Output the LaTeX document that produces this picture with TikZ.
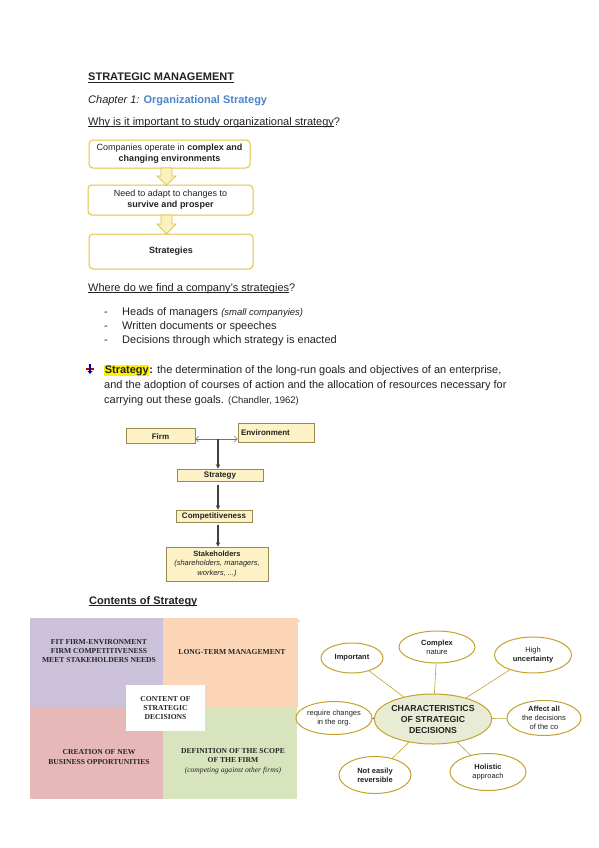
\documentclass[tikz,border=0pt]{standalone}
\usepackage{fontspec}
\setmainfont{Liberation Sans}
\newfontfamily\qserif{Liberation Serif}
\usetikzlibrary{shapes.geometric,arrows.meta}
\newcommand\myul[1]{\setbox0\hbox{#1}\rlap{\rule[-1.6pt]{\wd0}{0.55pt}}\box0}
\definecolor{fyel}{HTML}{E3C33F}
\definecolor{fyelfill}{HTML}{FBF1BE}
\definecolor{byfill}{HTML}{FDF1C6}
\definecolor{bydraw}{HTML}{968A52}
\definecolor{qpurple}{HTML}{CCC1DA}
\definecolor{qorange}{HTML}{FBD5B5}
\definecolor{qpink}{HTML}{E6B9B8}
\definecolor{qgreen}{HTML}{D7E4BD}
\definecolor{olivec}{HTML}{C4A22B}
\definecolor{cfill}{HTML}{E9ECD4}
\definecolor{titleblue}{HTML}{4A86C8}
\definecolor{txt}{HTML}{222222}
\begin{document}
\begin{tikzpicture}[x=1pt,y=-1pt,
  body/.style={anchor=base west, inner sep=0, text=txt, font=\fontsize{11}{13}\selectfont},
  fbox/.style={draw=fyel, line width=1pt, rounded corners=4pt, fill=white, align=center, inner sep=1pt, font=\fontsize{9}{11}\selectfont, text=txt},
  barrow/.style={draw=fyel, line width=0.8pt, fill=fyelfill},
  ybox/.style={draw=bydraw, line width=0.7pt, fill=byfill, inner sep=1pt, align=center, font=\bfseries\fontsize{8}{9.5}\selectfont, text=txt},
  yone/.style={ybox, text height=6pt, text depth=1.5pt},
  darr/.style={draw=black!75, line width=1.3pt, -{Stealth[length=4.5pt,width=4.5pt]}},
  qtext/.style={align=center, inner sep=0, font=\qserif\bfseries\fontsize{7.6}{9.3}\selectfont, text=black!85},
  mm/.style={ellipse, draw=olivec, line width=1pt, fill=white, inner sep=0, align=center, font=\fontsize{7.5}{9}\selectfont, text=txt},
  mline/.style={draw=olivec, line width=0.6pt}
]
\useasboundingbox (0,0) rectangle (599,848);
\fill[white] (0,0) rectangle (599,848);

% --- header texts
\node[body, font=\bfseries\fontsize{11}{13}\selectfont] (t1) at (88,81) {\myul{STRATEGIC MANAGEMENT}};
\node[body] (t2) at (88,104) {\textit{Chapter 1:} \textcolor{titleblue}{\textbf{Organizational Strategy}}};
\node[body] (t3) at (88,125) {\myul{Why is it important to study organizational strategy}?};

% --- flow boxes
\node[fbox, minimum width=161pt, minimum height=28pt] (b1) at (169.5,154) {Companies operate in \textbf{complex and}\\\textbf{changing environments}};
\node[fbox, minimum width=165pt, minimum height=30pt] (b2) at (170.5,200) {Need to adapt to changes to\\\textbf{survive and prosper}};
\node[fbox, minimum width=164pt, minimum height=35pt] (b3) at (171,251.5) {\textbf{Strategies}};
\draw[barrow] (161,168) -- (172,168) -- (172,176) -- (176,176) -- (166.5,185) -- (157,176) -- (161,176) -- cycle;
\draw[barrow] (161,215) -- (172,215) -- (172,224) -- (176,224) -- (166.5,234) -- (157,224) -- (161,224) -- cycle;

% --- where
\node[body] (w0) at (88,291) {\myul{Where do we find a company's strategies}?};
\node[body] (d1) at (104,315) {-};
\node[body] (w1) at (122,315) {Heads of managers {\itshape\fontsize{9.5}{11}\selectfont (small companyies)}};
\node[body] (d2) at (104,329) {-};
\node[body] (w2) at (122,329) {Written documents or speeches};
\node[body] (d3) at (104,343) {-};
\node[body] (w3) at (122,343) {Decisions through which strategy is enacted};

% icon
\fill[red!80!black] (86,368) rectangle (94,370);
\fill[blue!60!black] (89.2,364) rectangle (90.8,373);
\fill[blue!60!black] (87.5,371) -- (92.5,371) -- (90,374) -- cycle;

\node[body] (s1) at (104,373) {{\setlength\fboxsep{0.6pt}\colorbox{yellow}{\textbf{Strategy}}}\textbf{:} the determination of the long-run goals and objectives of an enterprise,};
\node[body] (s2) at (104,388) {and the adoption of courses of action and the allocation of resources necessary for};
\node[body] (s3) at (104,403) {carrying out these goals. {\fontsize{9.5}{11}\selectfont(Chandler, 1962)}};

% --- firm diagram
\node[yone, minimum width=69pt, minimum height=15pt] (firm) at (160.5,435.5) {\raisebox{-2pt}{Firm}};
\node[yone, minimum width=76pt, minimum height=19pt, text width=70pt, align=left] (env) at (276,432.5) {\raisebox{-1pt}{Environment}};
\node[yone, minimum width=86pt, minimum height=12pt] (strat) at (220,475) {Strategy};
\node[yone, minimum width=76pt, minimum height=12pt] (comp) at (214,516) {Competitiveness};
\node[ybox, minimum width=102pt, minimum height=34pt, font=\fontsize{7.5}{9.5}\selectfont] (stake) at (217,564) {\textbf{Stakeholders}\\\textit{(shareholders, managers,}\\\textit{workers, ...)}};
\coordinate (j) at (218,439);
\draw[black!55, line width=0.5pt, {Straight Barb[length=3pt]}-{Straight Barb[length=3pt]}] (firm.east |- j) -- (env.west |- j);
\draw[darr] (j) -- (j |- strat.north);
\draw[darr, shorten <=4pt] (j |- strat.south) -- (j |- comp.north);
\draw[darr, shorten <=3pt] (j |- comp.south) -- (j |- stake.north);

% --- contents of strategy
\node[body, font=\bfseries\fontsize{11}{13}\selectfont] (cs) at (89,604) {\myul{Contents of Strategy}};
\fill[qpurple] (30,618) rectangle (163,707);
\fill[qorange] (163,618) rectangle (298,707);
\fill[qorange] (298,620) rectangle (300,622);
\fill[qpink] (30,707) rectangle (163,799);
\fill[qgreen] (163,707) rectangle (297,799);
\node[fill=white, minimum width=79pt, minimum height=46pt, inner sep=0] (cc) at (165.5,708) {};
\node[qtext] (cct) at (cc) {CONTENT OF\\STRATEGIC\\DECISIONS};
\node[qtext] (q1) at (99,651) {FIT FIRM-ENVIRONMENT\\FIRM COMPETITIVENESS\\MEET STAKEHOLDERS NEEDS};
\node[qtext] (q2) at (232,652) {LONG-TERM MANAGEMENT};
\node[qtext] (q3) at (99,757) {CREATION OF NEW\\BUSINESS OPPORTUNITIES};
\node[qtext] (q4) at (233,761) {DEFINITION OF THE SCOPE\\OF THE FIRM\\{\mdseries\itshape (competing against other firms)}};

% --- mind map
\node[mm, fill=cfill, minimum width=100pt, minimum height=50pt, font=\bfseries\fontsize{8.7}{11}\selectfont] (c) at (433,719) {CHARACTERISTICS\\OF STRATEGIC\\DECISIONS};
\node[mm, minimum width=76pt, minimum height=32pt] (cx) at (437,647) {\textbf{Complex}\\nature};
\node[mm, minimum width=62pt, minimum height=30pt] (imp) at (352,658) {\textbf{Important}};
\node[mm, minimum width=77pt, minimum height=36pt] (hu) at (533,655) {High\\\textbf{uncertainty}};
\node[mm, minimum width=74pt, minimum height=35pt] (af) at (544,718) {\textbf{Affect all}\\the decisions\\of the co};
\node[mm, minimum width=70pt, minimum height=33pt] (rq) at (334,718) {require changes\\in the org.};
\node[mm, minimum width=72pt, minimum height=37pt] (ne) at (375,775) {\textbf{Not easily}\\\textbf{reversible}};
\node[mm, minimum width=76pt, minimum height=37pt] (ho) at (488,772) {\textbf{Holistic}\\approach};
\draw[mline] (c) -- (cx);
\draw[mline] (c) -- (imp);
\draw[mline] (c) -- (hu);
\draw[mline] (c) -- (af);
\draw[mline] (c) -- (ne);
\draw[mline] (c) -- (ho);
\draw[black, line width=1pt] (c) -- (rq);
\end{tikzpicture}
\end{document}
